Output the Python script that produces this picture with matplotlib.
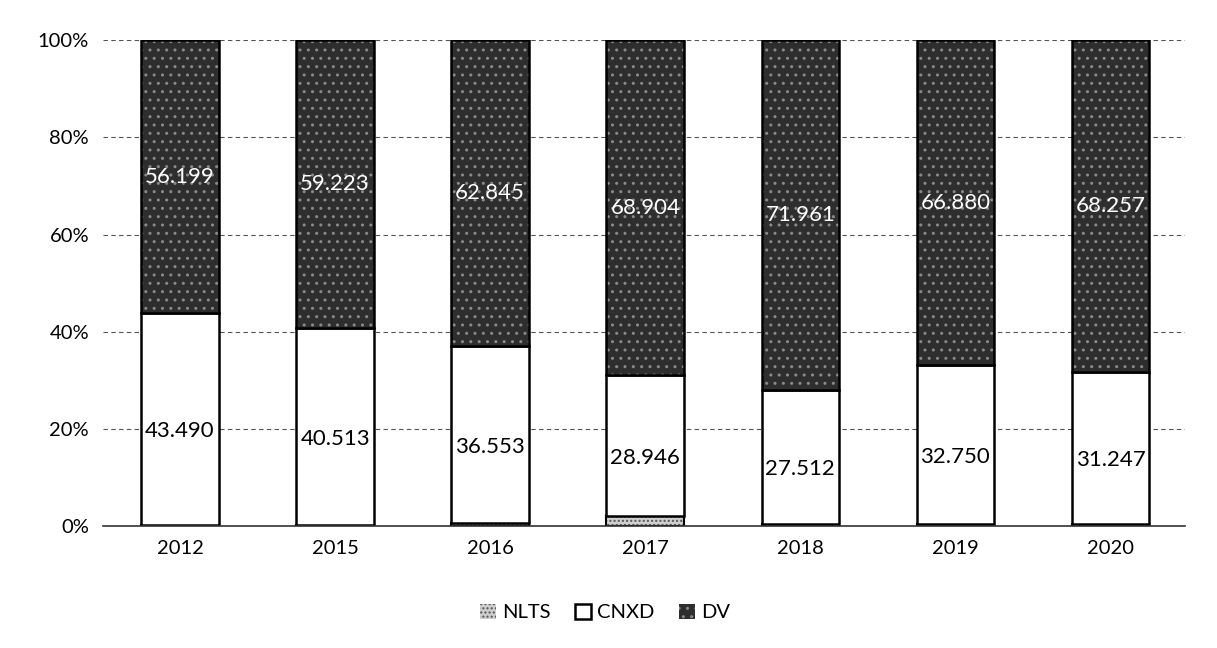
import matplotlib.pyplot as plt
import numpy as np

plt.rcParams["font.family"] = ["Lato", "DejaVu Sans"]

years = ["2012", "2015", "2016", "2017", "2018", "2019", "2020"]
cnxd = [43.490, 40.513, 36.553, 28.946, 27.512, 32.750, 31.247]
dv = [56.199, 59.223, 62.845, 68.904, 71.961, 66.880, 68.257]
nlts = [100 - c - d for c, d in zip(cnxd, dv)]

x = np.arange(len(years))
w = 0.5
nlts_a = np.array(nlts)
cnxd_a = np.array(cnxd)
dv_a = np.array(dv)

fig = plt.figure(figsize=(12.17, 6.48), dpi=100)
ax = fig.add_axes([0.0846, 0.188, 0.889, 0.75])

ax.yaxis.grid(True, color="#555555", linestyle=(0, (4, 3)), linewidth=0.8)
ax.set_axisbelow(True)

# NLTS (tiny bottom slice)
ax.bar(x, nlts_a, w, color="#cfcfcf", hatch="....", edgecolor="#555555", linewidth=0, label="NLTS")
ax.bar(x, nlts_a, w, fill=False, edgecolor="black", linewidth=1.5)
# CNXD (white)
ax.bar(x, cnxd_a, w, bottom=nlts_a, color="white", edgecolor="black", linewidth=1.8, label="CNXD")
# DV (dark speckled)
ax.bar(x, dv_a, w, bottom=nlts_a + cnxd_a, color="#2e2e2e", hatch="..", edgecolor="#8a8a8a",
       linewidth=0, label="DV")
ax.bar(x, dv_a, w, bottom=nlts_a + cnxd_a, fill=False, edgecolor="black", linewidth=1.8)

for i in range(len(years)):
    ax.text(x[i], nlts_a[i] + cnxd_a[i] / 2 - 2.5, f"{cnxd[i]:.3f}", ha="center", va="center",
            fontsize=16, color="black",
            bbox=dict(facecolor="white", edgecolor="none", pad=0.5))
    ax.text(x[i], nlts_a[i] + cnxd_a[i] + dv_a[i] / 2, f"{dv[i]:.3f}", ha="center", va="center",
            fontsize=16, color="white")

ax.set_xlim(-0.497, 6.48)
ax.set_ylim(0, 100)
ax.set_yticks([0, 20, 40, 60, 80, 100])
ax.set_yticklabels([f"{v}%" for v in [0, 20, 40, 60, 80, 100]], fontsize=14.5)
ax.set_xticks(x)
ax.set_xticklabels(years, fontsize=14.5)
ax.tick_params(length=0, pad=10)
for s in ["top", "right", "left"]:
    ax.spines[s].set_visible(False)
ax.spines["bottom"].set_color("#333333")
ax.spines["bottom"].set_linewidth(1.2)

handles, labels = ax.get_legend_handles_labels()
fig.legend(handles, labels, loc="center", bbox_to_anchor=(0.497, 0.055), ncol=3, frameon=False,
           fontsize=14.5, handlelength=0.8, handleheight=0.8, handletextpad=0.3, columnspacing=1.2)

fig.savefig("out.png", dpi=100)
